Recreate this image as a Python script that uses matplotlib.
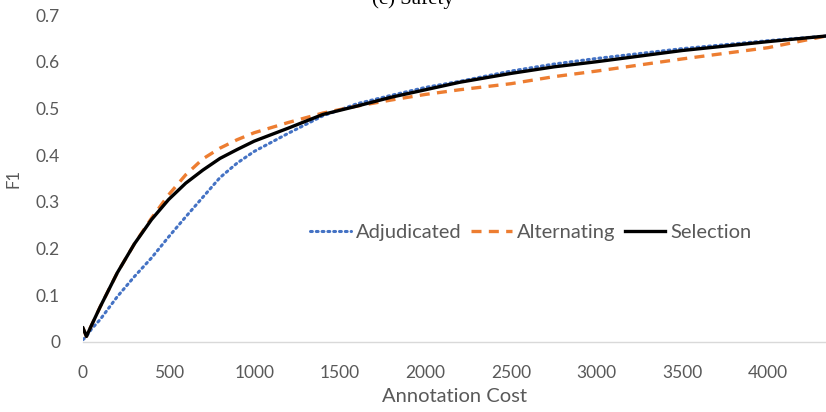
import matplotlib.pyplot as plt

# data
cost = [0, 20, 50, 100, 200, 300, 400, 500, 600, 700, 800, 900, 1000, 1200, 1400,
        1600, 1800, 2000, 2200, 2500, 2750, 3000, 3500, 4000, 4339]

adjudicated = [0.005, 0.012, 0.028, 0.048, 0.097, 0.14, 0.18, 0.225, 0.268, 0.31, 0.352, 0.383, 0.408,
               0.447, 0.484, 0.51, 0.528, 0.545, 0.558, 0.58, 0.595, 0.607, 0.628, 0.645, 0.655]
alternating = [0.03, 0.012, 0.036, 0.075, 0.148, 0.21, 0.265, 0.315, 0.358, 0.392, 0.415, 0.433, 0.448,
               0.47, 0.49, 0.505, 0.518, 0.53, 0.54, 0.553, 0.568, 0.58, 0.606, 0.63, 0.655]
selection = [0.03, 0.012, 0.036, 0.075, 0.148, 0.21, 0.262, 0.305, 0.34, 0.368, 0.393, 0.412, 0.43,
             0.458, 0.487, 0.505, 0.524, 0.54, 0.556, 0.575, 0.589, 0.60, 0.624, 0.643, 0.655]

plt.rcParams['font.family'] = ['Lato', 'DejaVu Sans']
grey = '#595959'

fig = plt.figure(figsize=(8.26, 4.12), dpi=100)
ax = fig.add_axes([83 / 826, 70 / 412, 743 / 826, 327 / 412])

ax.plot(cost, adjudicated, color='#4472c4', lw=2.2, linestyle=(0, (0.6, 1.3)),
        dash_capstyle='round', label='Adjudicated')
ax.plot(cost, alternating, color='#ed7d31', lw=2.4, linestyle=(0, (3, 2.2)), label='Alternating')
ax.plot(cost, selection, color='black', lw=2.4, label='Selection')

ax.set_xlim(0, 4339)
ax.set_ylim(0, 0.7)
ax.set_xticks([0, 500, 1000, 1500, 2000, 2500, 3000, 3500, 4000])
ax.set_yticks([0, 0.1, 0.2, 0.3, 0.4, 0.5, 0.6, 0.7])
ax.set_yticklabels(['0', '0.1', '0.2', '0.3', '0.4', '0.5', '0.6', '0.7'])
ax.tick_params(length=0, labelsize=12.5, colors=grey, pad=16.5)

for s in ['top', 'right', 'left']:
    ax.spines[s].set_visible(False)
ax.spines['bottom'].set_color('#d9d9d9')
ax.spines['bottom'].set_linewidth(1)

ax.set_xlabel('Annotation Cost', fontsize=14.5, color=grey, labelpad=5)
ax.set_ylabel('F1', fontsize=12, color=grey)
ax.yaxis.set_label_coords(-0.083, 0.5)

ax.legend(loc='center', bbox_to_anchor=(0.603, 0.336), ncol=3, frameon=False, fontsize=14.5,
          labelcolor=grey, handlelength=2.0, handletextpad=0.25, columnspacing=0.5)

fig.text(0.5, 1 - 4 / 412, '(c) Safety', ha='center', va='baseline',
         fontsize=15, family='Liberation Serif', color='black')

fig.savefig('out.png', dpi=100)
